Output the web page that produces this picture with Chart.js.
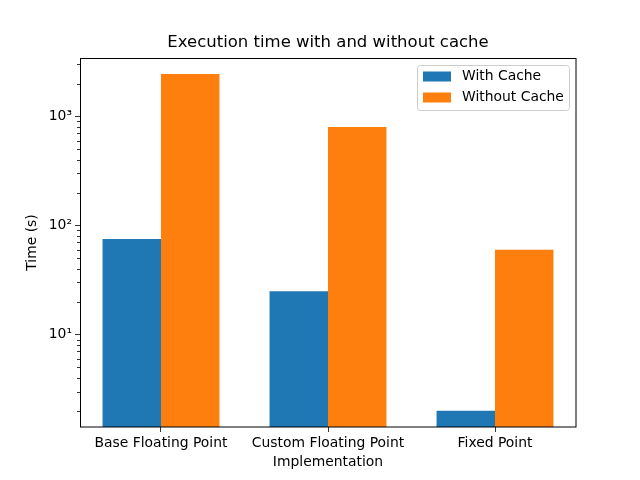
<!DOCTYPE html>
<html>
<head>
<meta charset="utf-8">
<script src="https://cdn.jsdelivr.net/npm/chart.js@4/dist/chart.umd.min.js"></script>
<style>
  html, body { margin: 0; padding: 0; background: #fff; }
  #wrap { width: 640px; height: 480px; }
</style>
</head>
<body>
<div id="wrap"><canvas id="c" width="640" height="480"></canvas></div>
<script>
const categories = ['Base Floating Point', 'Custom Floating Point', 'Fixed Point'];
const withCache = [75, 25, 2];
const withoutCache = [2450, 800, 60];
const seriesLabels = ['With Cache', 'Without Cache'];
const seriesColors = ['#1f77b4', '#ff7f0e'];
const yTickValues = [2,3,4,5,6,7,8,9,10,20,30,40,50,60,70,80,90,100,200,300,400,500,600,700,800,900,1000,2000,3000];
const supers = {'0':'⁰','1':'¹','2':'²','3':'³','4':'⁴','5':'⁵','6':'⁶','7':'⁷','8':'⁸','9':'⁹'};

const FONT = 'DejaVu Sans';
const isMajor = v => Math.abs(Math.log10(v) - Math.round(Math.log10(v))) < 1e-9;

const framePlugin = {
  id: 'frame',
  afterDraw(chart) {
    const ctx = chart.ctx;
    const a = chart.chartArea;
    const ys = chart.scales.y;
    ctx.save();
    // minor ticks
    ctx.strokeStyle = '#000';
    ctx.lineWidth = 0.8;
    ctx.beginPath();
    ys.ticks.forEach(t => {
      if (!isMajor(t.value)) {
        const py = Math.round(ys.getPixelForValue(t.value)) + 0.5;
        ctx.moveTo(a.left - 3, py);
        ctx.lineTo(a.left, py);
      }
    });
    ctx.stroke();
    // frame
    ctx.lineWidth = 1;
    ctx.strokeRect(Math.round(a.left) + 0.5, Math.round(a.top) + 0.5, Math.round(a.right - a.left) - 0.5, Math.round(a.bottom - a.top) - 0.5);
    // legend
    const ds = chart.data.datasets;
    const bx = 417.5, by = 65.5, bw = 152, bh = 45, r = 3;
    ctx.fillStyle = 'rgba(255,255,255,0.8)';
    ctx.strokeStyle = '#cccccc';
    ctx.beginPath();
    ctx.moveTo(bx + r, by);
    ctx.arcTo(bx + bw, by, bx + bw, by + bh, r);
    ctx.arcTo(bx + bw, by + bh, bx, by + bh, r);
    ctx.arcTo(bx, by + bh, bx, by, r);
    ctx.arcTo(bx, by, bx + bw, by, r);
    ctx.closePath();
    ctx.fill();
    ctx.stroke();
    ctx.font = '13.9px "' + FONT + '"';
    ctx.textBaseline = 'middle';
    ctx.textAlign = 'left';
    ds.forEach((d, i) => {
      const cy = 76.5 + i * 21;
      ctx.fillStyle = d.backgroundColor;
      ctx.fillRect(423, cy - 5, 28, 10);
      ctx.fillStyle = '#000';
      ctx.fillText(d.label, 462, cy);
    });
    ctx.restore();
  }
};

new Chart(document.getElementById('c'), {
  type: 'bar',
  data: {
    datasets: [
      { label: seriesLabels[0], data: withCache.map((v, i) => ({ x: i, y: v })), backgroundColor: seriesColors[0] },
      { label: seriesLabels[1], data: withoutCache.map((v, i) => ({ x: i, y: v })), backgroundColor: seriesColors[1] }
    ]
  },
  options: {
    responsive: false,
    animation: false,
    devicePixelRatio: 1,
    categoryPercentage: 0.7,
    barPercentage: 1.0,
    layout: { padding: { left: 0, right: 64, top: 0, bottom: 0 } },
    plugins: {
      legend: { display: false },
      tooltip: { enabled: false },
      title: {
        display: true,
        fullSize: false,
        text: 'Execution time with and without cache',
        color: '#000',
        font: { family: FONT, size: 16.5, weight: 'normal' },
        padding: { top: 33, bottom: 5.2 }
      }
    },
    scales: {
      x: {
        type: 'linear',
        min: -0.485,
        max: 2.485,
        offset: false,
        afterFit: s => { s.height = 53; },
        afterBuildTicks: s => { s.ticks = categories.map((_, i) => ({ value: i })); },
        grid: { display: true, drawOnChartArea: false, offset: false, tickLength: 5, color: '#000', tickColor: '#000', tickWidth: 0.8 },
        border: { display: false },
        ticks: {
          autoSkip: false,
          maxRotation: 0,
          padding: 3,
          color: '#000',
          font: { family: FONT, size: 13.9 },
          callback: v => categories[v]
        },
        title: {
          display: true,
          text: 'Implementation',
          color: '#000',
          font: { family: FONT, size: 13.9 },
          padding: { top: 0, bottom: 9.5 }
        }
      },
      y: {
        type: 'logarithmic',
        min: 1.42,
        max: 3430,
        afterFit: s => { s.width = 80; },
        afterBuildTicks: s => { s.ticks = yTickValues.map(v => ({ value: v, major: isMajor(v) })); },
        grid: {
          display: true, drawOnChartArea: false, tickLength: 5, tickWidth: 0.8,
          tickColor: c => (c.tick && isMajor(c.tick.value)) ? '#000' : 'rgba(0,0,0,0)'
        },
        border: { display: false },
        ticks: {
          autoSkip: false,
          padding: 3,
          color: '#000',
          font: { family: FONT, size: 13.9 },
          callback: v => isMajor(v) ? '10' + String(Math.round(Math.log10(v))).split('').map(c => supers[c]).join('') : ''
        },
        title: {
          display: true,
          text: 'Time (s)',
          color: '#000',
          font: { family: FONT, size: 13.9 },
          padding: { top: 24, bottom: 0 }
        }
      }
    }
  },
  plugins: [framePlugin]
});
</script>
</body>
</html>
